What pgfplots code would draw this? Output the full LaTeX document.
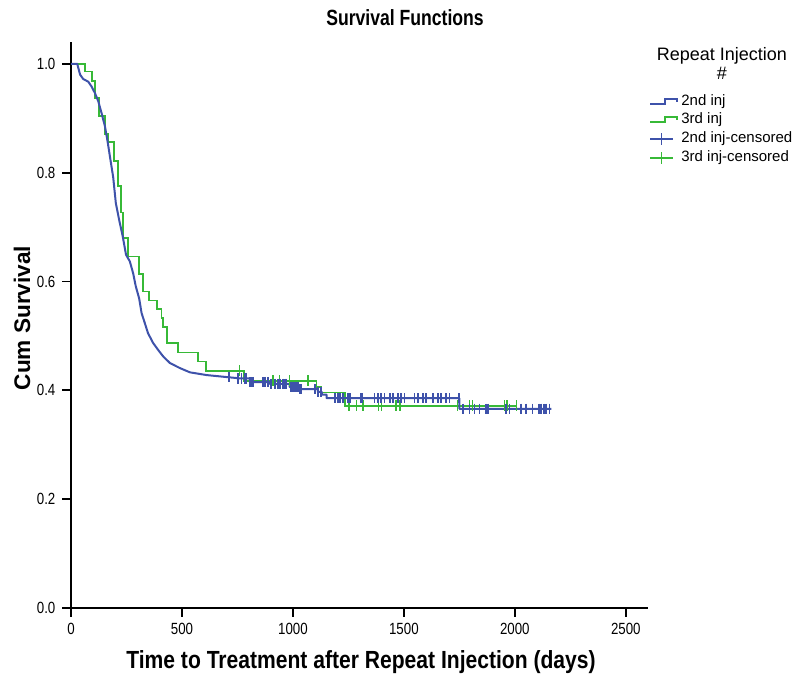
\documentclass[border=0pt]{standalone}
\usepackage{fontspec}
\setmainfont{Liberation Sans}
\newfontfamily\condfont[FakeStretch=0.85]{Liberation Sans}
\newfontfamily\tickfont[FakeStretch=0.82]{Liberation Sans}
\newfontfamily\titlefont[FakeStretch=0.8]{Liberation Sans}
\usepackage{pgfplots}
\pgfplotsset{compat=1.18}
\definecolor{kmblue}{RGB}{62,82,170}
\definecolor{kmgreen}{RGB}{55,185,55}
\begin{document}
\begin{tikzpicture}[x=1pt,y=1pt]
\useasboundingbox (0,0) rectangle (400,341);
\begin{axis}[
  at={(35.5pt,37pt)}, anchor=south west,
  scale only axis, width=288.5pt, height=283pt,
  xmin=0, xmax=2600, ymin=0, ymax=1.04,
  axis lines=left, axis line style={-, line width=0.6pt, black},
  xtick={0,500,1000,1500,2000,2500}, ytick={0,0.2,0.4,0.6,0.8,1},
  tick align=outside, major tick length=4.3pt,
  tick style={black, line width=0.9pt},
  xticklabel style={/pgf/number format/1000 sep={}},
  yticklabel style={/pgf/number format/.cd, fixed, fixed zerofill, precision=1},
  /pgf/number format/assume math mode=true,
  ticklabel style={font=\tickfont\fontsize{8.1}{9}\selectfont},
  clip=false,
]
% 3rd inj
\addplot[kmgreen, line width=0.9pt, const plot] coordinates {
(0,1) (63,0.9858) (93,0.9688) (108,0.9375) (127,0.9044) (153,0.8713)
(165,0.8566) (195,0.8217) (213,0.7757) (224,0.7267) (233,0.680)
(258,0.6458) (307,0.614) (325,0.5814) (352,0.5649) (388,0.549)
(408,0.533) (415,0.517) (431,0.4866) (483,0.4693) (573,0.4528)
(607,0.4362) (778,0.4178) (1106,0.4068) (1128,0.3958) (1233,0.3719)
(2007,0.3719)};
% 2nd inj
\addplot[kmblue, line width=1pt, line join=round] coordinates {
(0,1) (28,1) (41,0.980) (55,0.972) (78,0.967) (93,0.958) (108,0.946)
(123,0.931) (138,0.909) (153,0.885) (165,0.857) (176,0.828) (190,0.792)
(202,0.744) (217,0.713) (233,0.683) (248,0.649) (265,0.637) (280,0.615)
(292,0.591) (307,0.569) (318,0.542) (333,0.523) (347,0.505) (370,0.487)
(393,0.474) (416,0.462) (446,0.450) (490,0.441) (536,0.433) (611,0.428)
(685,0.425) (760,0.422) (806,0.422) (806,0.415) (895,0.415) (895,0.412)
(985,0.412) (985,0.406) (1031,0.406) (1031,0.402) (1112,0.402)
(1112,0.397) (1130,0.397) (1130,0.392) (1152,0.392) (1152,0.3855)
(1750,0.3855) (1750,0.366) (2165,0.366)};
% 3rd inj censored
\addplot[only marks, mark=|, mark size=2.6pt, kmgreen, mark options={line width=0.8pt}] coordinates {
(760,0.4362) (910,0.4178) (940,0.4178) (985,0.4178) (1068,0.4178)
(1252,0.3719) (1286,0.3719) (1315,0.3719) (1386,0.3719) (1400,0.3719)
(1465,0.3719) (1483,0.3719) (1742,0.3719) (1796,0.3719) (1810,0.3719)
(1953,0.3719) (1966,0.3719) (2007,0.3719)};
% 2nd inj censored
\addplot[only marks, mark=|, mark size=2.6pt, kmblue, mark options={line width=0.9pt}] coordinates {
(711,0.424) (753,0.422) (768,0.422) (783,0.422) (791,0.422)
(806,0.415) (813,0.415) (820,0.415) (865,0.415) (873,0.415) (888,0.415)
(903,0.412) (918,0.412) (933,0.412) (941,0.412) (955,0.412) (963,0.412) (971,0.412)
(993,0.406) (1000,0.406) (1008,0.406) (1016,0.406) (1023,0.406)
(1031,0.402) (1038,0.402) (1098,0.402) (1112,0.397) (1128,0.397)
(1188,0.3855) (1202,0.3855) (1211,0.3855) (1225,0.3855) (1248,0.3855) (1258,0.3855)
(1308,0.3855) (1313,0.3855) (1368,0.3855) (1383,0.3855) (1398,0.3855) (1413,0.3855)
(1436,0.3855) (1450,0.3855) (1473,0.3855) (1488,0.3855) (1503,0.3855)
(1548,0.3855) (1563,0.3855) (1585,0.3855) (1601,0.3855)
(1630,0.3855) (1653,0.3855) (1668,0.3855) (1691,0.3855) (1706,0.3855) (1747,0.3855)
(1765,0.366) (1796,0.366) (1818,0.366) (1841,0.366) (1871,0.366) (1878,0.366)
(1961,0.366) (1976,0.366) (2028,0.366) (2051,0.366) (2080,0.366) (2110,0.366)
(2118,0.366) (2133,0.366) (2141,0.366) (2156,0.366)};
\end{axis}
% titles
\node[font=\titlefont\bfseries\fontsize{11}{12}\selectfont] at (202.5,332) {Survival Functions};
\node[font=\condfont\bfseries\fontsize{12.4}{13}\selectfont] at (180.5,10) {Time to Treatment after Repeat Injection (days)};
\node[font=\bfseries\fontsize{11.3}{12}\selectfont, rotate=90] at (11,182) {Cum Survival};
% legend
\node[align=center, font=\fontsize{9}{9.5}\selectfont, anchor=north] at (361,321) {Repeat Injection\\\#};
\begin{scope}[line width=0.8pt]
\draw[kmblue] (325,289) -- (332.5,289) -- (332.5,291.5) -- (338.5,291.5) -- (338.5,290);
\draw[kmgreen] (325,280) -- (332.5,280) -- (332.5,282.5) -- (338.5,282.5) -- (338.5,281);
\draw[kmblue] (325,271.5) -- (336.5,271.5); \draw[kmblue] (330.8,268.5) -- (330.8,274.5);
\draw[kmgreen] (325,262) -- (336.5,262); \draw[kmgreen] (330.8,259) -- (330.8,265);
\end{scope}
\begin{scope}[font=\fontsize{7.5}{8}\selectfont]
\node[anchor=west, inner sep=0] at (340.5,290) {2nd inj};
\node[anchor=west, inner sep=0] at (340.5,281) {3rd inj};
\node[anchor=west, inner sep=0] at (340.5,271.5) {2nd inj-censored};
\node[anchor=west, inner sep=0] at (340.5,262) {3rd inj-censored};
\end{scope}
\end{tikzpicture}
\end{document}
